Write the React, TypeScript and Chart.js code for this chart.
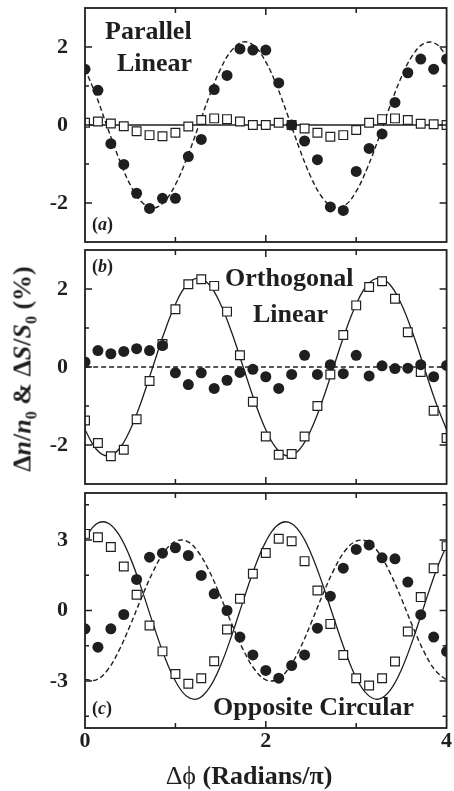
import React, { useEffect, useRef } from 'react';
import { Chart, registerables } from 'chart.js';

Chart.register(...registerables);

// ---------- data ----------
const PHASE = [0, 0.143, 0.286, 0.429, 0.571, 0.714, 0.857, 1, 1.143, 1.286, 1.429, 1.571, 1.714, 1.857, 2,
  2.143, 2.286, 2.429, 2.571, 2.714, 2.857, 3, 3.143, 3.286, 3.429, 3.571, 3.714, 3.857, 4];

const FIT_PHASE = [0, 0.125, 0.25, 0.375, 0.5, 0.625, 0.75, 0.875, 1, 1.125, 1.25, 1.375, 1.5, 1.625, 1.75, 1.875, 2,
  2.125, 2.25, 2.375, 2.5, 2.625, 2.75, 2.875, 3, 3.125, 3.25, 3.375, 3.5, 3.625, 3.75, 3.875, 4];
const FLAT_PHASE = [0, 4];

// (a) Parallel Linear
const A_CIRCLES = [1.43, 0.89, -0.48, -1.01, -1.75, -2.14, -1.88, -1.88, -0.81, -0.37, 0.91, 1.27, 1.95, 1.92, 1.92,
  1.08, 0.0, -0.41, -0.89, -2.10, -2.19, -1.19, -0.6, -0.23, 0.58, 1.34, 1.69, 1.43, 1.69];
const A_SQUARES = [0.06, 0.09, 0.04, -0.03, -0.16, -0.26, -0.29, -0.2, -0.04, 0.13, 0.17, 0.15, 0.09, 0, 0,
  0.06, 0, -0.09, -0.2, -0.3, -0.26, -0.13, 0.06, 0.15, 0.17, 0.13, 0.03, 0.02, 0];
const A_FIT_DASHED = [1.44, 0.74, -0.07, -0.86, -1.53, -1.97, -2.13, -1.97, -1.53, -0.86, -0.07, 0.74, 1.44, 1.92, 2.13, 2.02, 1.62,
  0.98, 0.20, -0.62, -1.34, -1.86, -2.11, -2.06, -1.70, -1.09, -0.33, 0.49, 1.23, 1.79, 2.09, 2.09, 1.77];
const A_FIT_SOLID = [0, 0];

// (b) Orthogonal Linear
const B_SQUARES = [-1.37, -1.95, -2.29, -2.12, -1.34, -0.36, 0.59, 1.48, 2.12, 2.25, 2.08, 1.42, 0.30, -0.89, -1.78,
  -2.25, -2.23, -1.78, -1.0, -0.19, 0.82, 1.58, 2.05, 2.2, 1.75, 0.89, -0.13, -1.12, -1.82];
const B_CIRCLES = [0.13, 0.42, 0.34, 0.40, 0.47, 0.42, 0.55, -0.15, -0.45, -0.15, -0.55, -0.34, -0.14, -0.06, -0.25,
  -0.55, -0.19, 0.30, -0.19, 0.06, -0.17, 0.30, -0.23, 0.03, -0.04, -0.03, 0.06, -0.25, 0.04];
const B_FIT_SOLID = [-1.61, -2.11, -2.28, -2.11, -1.61, -0.87, 0, 0.87, 1.61, 2.11, 2.28, 2.11, 1.61, 0.87, 0, -0.87, -1.61,
  -2.11, -2.28, -2.11, -1.61, -0.87, 0, 0.87, 1.61, 2.11, 2.28, 2.11, 1.61, 0.87, 0, -0.87, -1.61];
const B_FIT_DASHED = [0, 0];

// (c) Opposite Circular
const C_SQUARES = [3.26, 3.12, 2.70, 1.87, 0.67, -0.64, -1.74, -2.70, -3.12, -2.88, -2.16, -0.81, 0.50, 1.56, 2.45,
  3.05, 2.95, 2.10, 0.85, -0.57, -1.89, -2.88, -3.19, -2.88, -2.17, -0.89, 0.57, 1.80, 2.74];
const C_CIRCLES = [-0.78, -1.56, -0.78, -0.17, 1.32, 2.27, 2.44, 2.67, 2.34, 1.49, 0.71, 0, -1.13, -1.89, -2.55,
  -2.88, -2.34, -1.89, -0.75, 0.61, 1.80, 2.60, 2.79, 2.24, 2.20, 1.21, -0.18, -1.13, -1.74];
const C_FIT_SOLID = [3.07, 3.68, 3.73, 3.23, 2.25, 0.93, -0.53, -1.91, -3.00, -3.65, -3.75, -3.29, -2.34, -1.04, 0.41, 1.81, 2.93,
  3.62, 3.76, 3.35, 2.43, 1.15, -0.30, -1.70, -2.86, -3.58, -3.77, -3.40, -2.52, -1.26, 0.18, 1.60, 2.78];
const C_FIT_DASHED = [-2.93, -2.95, -2.53, -1.71, -0.63, 0.54, 1.63, 2.48, 2.94, 2.95, 2.50, 1.67, 0.59, -0.59, -1.67, -2.50, -2.95,
  -2.94, -2.48, -1.64, -0.54, 0.63, 1.71, 2.53, 2.95, 2.93, 2.45, 1.60, 0.50, -0.68, -1.75, -2.55, -2.96];

// ticks
const X_TICKS = [0, 1, 2, 3, 4];
const X_LABELS = [0, 2, 4];
const Y_TICKS_AB = [-2, -1, 0, 1, 2];
const Y_LABELS_AB = [-2, 0, 2];
const Y_TICKS_C = [-4.5, -3, -1.5, 0, 1.5, 3, 4.5];
const Y_LABELS_C = [-3, 0, 3];

// ---------- styling ----------
const INK = '#1f1f1f';
const SERIF = '"Liberation Serif", "Times New Roman", serif';

const pts = (xs: number[], ys: number[]) => xs.map((x, i) => ({ x, y: ys[i] }));

const framePlugin = {
  id: 'frame',
  afterDatasetsDraw(chart: any) {
    const { ctx, chartArea: a, scales } = chart;
    const o = chart.options.plugins.frame;
    ctx.save();
    ctx.strokeStyle = INK;
    ctx.lineWidth = 1.5;
    ctx.beginPath();
    X_TICKS.forEach((v) => {
      if (v <= 0 || v >= 4) return;
      const px = scales.x.getPixelForValue(v);
      const len = X_LABELS.includes(v) ? 7 : 5;
      ctx.moveTo(px, a.top); ctx.lineTo(px, a.top + len);
      ctx.moveTo(px, a.bottom); ctx.lineTo(px, a.bottom - len);
    });
    o.yTicks.forEach((v: number) => {
      const py = scales.y.getPixelForValue(v);
      const len = o.yLabels.includes(v) ? 7 : 4;
      ctx.moveTo(a.left, py); ctx.lineTo(a.left + len, py);
      ctx.moveTo(a.right, py); ctx.lineTo(a.right - len, py);
    });
    ctx.stroke();
    ctx.lineWidth = 1.8;
    ctx.strokeRect(a.left, a.top, a.right - a.left, a.bottom - a.top);
    ctx.restore();
  },
};

type Spec = {
  dashed: { x: number[]; y: number[] };
  solid: { x: number[]; y: number[] };
  squares: number[];
  circles: number[];
  yMin: number;
  yMax: number;
  yTicks: number[];
  yLabels: number[];
  showX: boolean;
};

function makeConfig(s: Spec): any {
  const tickFont = { family: SERIF, size: 22, weight: 'bold' as const };
  return {
    type: 'scatter',
    data: {
      datasets: [
        {
          data: pts(s.dashed.x, s.dashed.y), showLine: true, pointRadius: 0, borderColor: INK,
          borderWidth: 1.4, borderDash: [5, 3], tension: 0.4, order: 4,
        },
        {
          data: pts(s.solid.x, s.solid.y), showLine: true, pointRadius: 0, borderColor: INK,
          borderWidth: 1.3, tension: 0.4, order: 3,
        },
        {
          data: pts(PHASE, s.squares), showLine: false, pointStyle: 'rect', pointRadius: 6.2,
          backgroundColor: '#ffffff', borderColor: INK, borderWidth: 1.2, order: 2,
        },
        {
          data: pts(PHASE, s.circles), showLine: false, pointStyle: 'circle', pointRadius: 5.5,
          backgroundColor: INK, borderColor: INK, borderWidth: 0, order: 1,
        },
      ],
    },
    options: {
      animation: false,
      responsive: false,
      maintainAspectRatio: false,
      devicePixelRatio: 1,
      events: [],
      layout: { padding: { top: 8, bottom: s.showX ? 0 : 8, left: 0, right: 4 } },
      plugins: {
        legend: { display: false },
        tooltip: { enabled: false },
        frame: { yTicks: s.yTicks, yLabels: s.yLabels },
      },
      scales: {
        x: {
          type: 'linear', min: 0, max: 4, display: s.showX,
          grid: { display: false }, border: { display: false },
          afterBuildTicks: (sc: any) => { sc.ticks = X_TICKS.map((v) => ({ value: v })); },
          afterFit: (sc: any) => {
            sc.height = s.showX ? 63 : 0;
            sc.paddingLeft = 0; sc.paddingRight = 0;
          },
          ticks: {
            autoSkip: false, maxRotation: 0, padding: -8, color: INK, font: tickFont,
            callback: (v: number) => (X_LABELS.includes(v) ? String(v) : ''),
          },
        },
        y: {
          type: 'linear', min: s.yMin, max: s.yMax,
          grid: { display: false }, border: { display: false },
          afterBuildTicks: (sc: any) => { sc.ticks = s.yTicks.map((v) => ({ value: v })); },
          afterFit: (sc: any) => {
            sc.width = 85;
            sc.paddingTop = 0; sc.paddingBottom = 0;
          },
          ticks: {
            padding: 9, color: INK, font: tickFont,
            callback: (v: number) => (s.yLabels.includes(v) ? String(v) : ''),
          },
        },
      },
    },
    plugins: [framePlugin],
  };
}

const PANELS: { top: number; height: number; spec: Spec }[] = [
  {
    top: 0, height: 250,
    spec: {
      dashed: { x: FIT_PHASE, y: A_FIT_DASHED }, solid: { x: FLAT_PHASE, y: A_FIT_SOLID },
      squares: A_SQUARES, circles: A_CIRCLES, yMin: -3, yMax: 3,
      yTicks: Y_TICKS_AB, yLabels: Y_LABELS_AB, showX: false,
    },
  },
  {
    top: 242, height: 250,
    spec: {
      dashed: { x: FLAT_PHASE, y: B_FIT_DASHED }, solid: { x: FIT_PHASE, y: B_FIT_SOLID },
      squares: B_SQUARES, circles: B_CIRCLES, yMin: -3, yMax: 3,
      yTicks: Y_TICKS_AB, yLabels: Y_LABELS_AB, showX: false,
    },
  },
  {
    top: 485, height: 306,
    spec: {
      dashed: { x: FIT_PHASE, y: C_FIT_DASHED }, solid: { x: FIT_PHASE, y: C_FIT_SOLID },
      squares: C_SQUARES, circles: C_CIRCLES, yMin: -5, yMax: 5,
      yTicks: Y_TICKS_C, yLabels: Y_LABELS_C, showX: true,
    },
  },
];

function Text(props: { left: number; baseline: number; size: number; children: React.ReactNode; style?: any }) {
  const { left, baseline, size, children, style } = props;
  return (
    <div
      style={{
        position: 'absolute', left, top: baseline - 0.8375 * size, fontFamily: SERIF, fontSize: size,
        lineHeight: `${size}px`, fontWeight: 'bold', color: INK, whiteSpace: 'nowrap', ...style,
      }}
    >
      {children}
    </div>
  );
}

export default function App() {
  const refs = [useRef<HTMLCanvasElement>(null), useRef<HTMLCanvasElement>(null), useRef<HTMLCanvasElement>(null)];

  useEffect(() => {
    const charts = PANELS.map((p, i) => new Chart(refs[i].current as HTMLCanvasElement, makeConfig(p.spec)));
    return () => charts.forEach((c) => c.destroy());
  }, []);

  const sub = (t: string) => (
    <span style={{ fontSize: 16, position: 'relative', top: 6 }}>{t}</span>
  );

  return (
    <div style={{ position: 'absolute', left: 0, top: 0, width: 454, height: 791, background: '#ffffff', overflow: 'hidden' }}>
      {PANELS.map((p, i) => (
        <canvas
          key={i}
          ref={refs[i]}
          width={454}
          height={p.height}
          style={{ position: 'absolute', left: 0, top: p.top, width: 454, height: p.height }}
        />
      ))}

      <Text left={105} baseline={40} size={26}>Parallel</Text>
      <Text left={117} baseline={72} size={26}>Linear</Text>
      <Text left={225} baseline={287} size={26}>Orthogonal</Text>
      <Text left={253} baseline={323} size={26}>Linear</Text>
      <Text left={213} baseline={716} size={26}>Opposite Circular</Text>

      <Text left={92} baseline={230} size={18}>(<i>a</i>)</Text>
      <Text left={92} baseline={272} size={18}>(<i>b</i>)</Text>
      <Text left={92} baseline={714} size={18}>(<i>c</i>)</Text>

      <div
        style={{
          position: 'absolute', left: 249, top: 785 - 0.8375 * 26, transform: 'translateX(-50%)',
          fontFamily: SERIF, fontSize: 26, lineHeight: '26px', fontWeight: 'bold', color: INK, whiteSpace: 'nowrap',
        }}
      >
        <span style={{ fontWeight: 'normal' }}>Δϕ</span> (Radians/π)
      </div>

      <div
        style={{
          position: 'absolute', left: 24, top: 369, transform: 'translate(-50%, -50%) rotate(-90deg)',
          fontFamily: SERIF, fontSize: 26, lineHeight: '26px', fontWeight: 'bold', color: INK, whiteSpace: 'nowrap',
        }}
      >
        Δ<i>n</i>/<i>n</i>{sub('0')} &amp; Δ<i>S</i>/<i>S</i>{sub('0')} (%)
      </div>
    </div>
  );
}
